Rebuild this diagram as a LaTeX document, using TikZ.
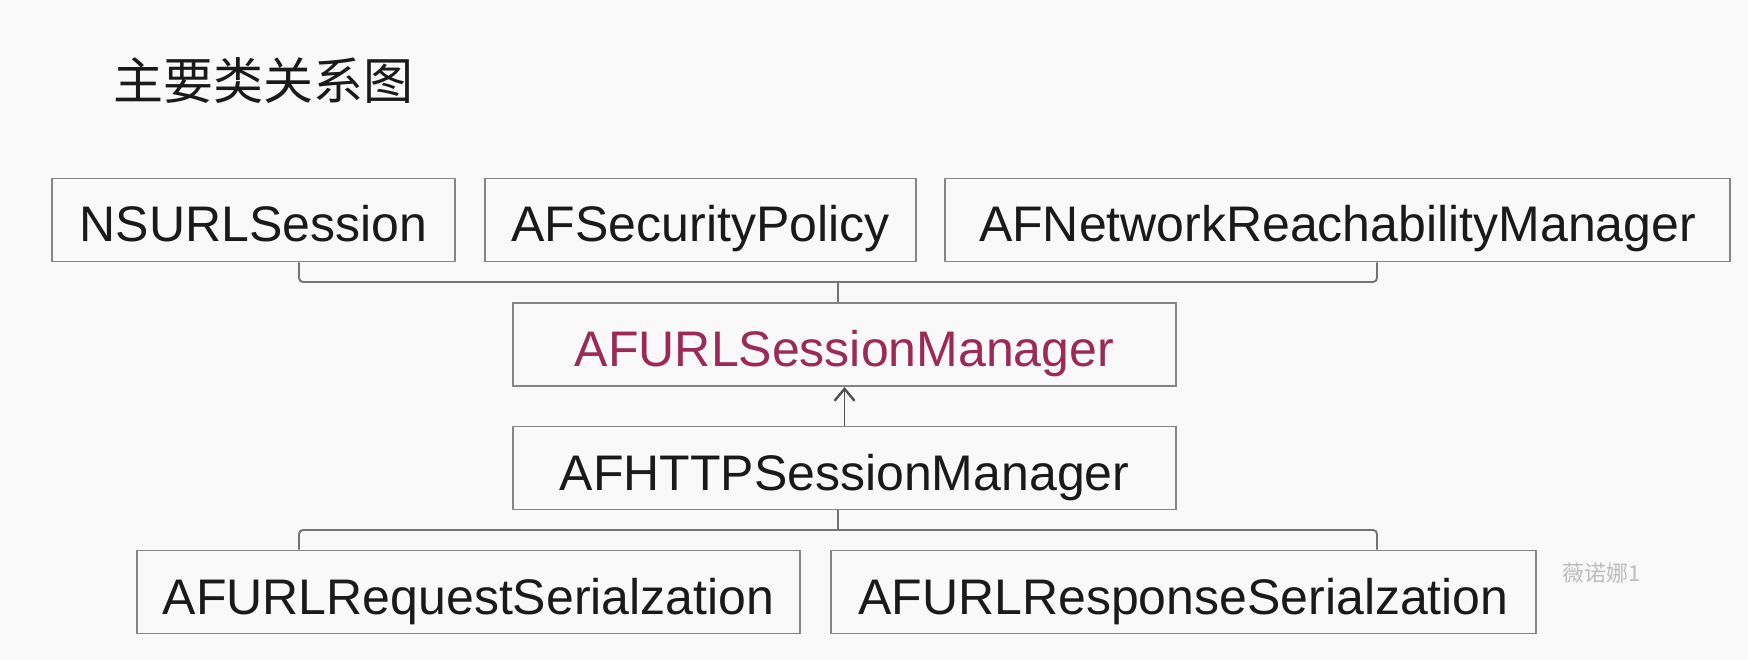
\documentclass[tikz,border=0pt]{standalone}
\usepackage{fontspec}
\setmainfont{Liberation Sans}
\newfontfamily\cjk{Noto Sans CJK SC}
\usetikzlibrary{arrows.meta}
\definecolor{bg}{HTML}{F9F9F9}
\definecolor{boxgray}{HTML}{858585}
\definecolor{linegray}{HTML}{747474}
\definecolor{arrowgray}{HTML}{505050}
\definecolor{txt}{HTML}{1A1A1A}
\definecolor{mgrred}{HTML}{9B2A57}
\definecolor{wmgray}{HTML}{BDBDBD}
\begin{document}
\begin{tikzpicture}[x=1pt,y=-1pt,
  box/.style={draw=boxgray, line width=1.9pt, inner sep=0pt, minimum height=83pt,
    text height=44pt, text depth=0pt,
    font=\fontsize{50}{60}\selectfont, text=txt},
  link/.style={draw=linegray, line width=1.9pt, rounded corners=4pt},
  titletext/.style={font=\cjk\fontsize{50}{60}\selectfont, text=txt, anchor=west, inner sep=0pt},
  wmtext/.style={font=\cjk\fontsize{22}{26}\selectfont, text=wmgray, anchor=west, inner sep=0pt}]
\fill[bg] (0,0) rectangle (1748,660);
\useasboundingbox (0,0) rectangle (1748,660);

\node[titletext] (title) at (113,81) {主要类关系图};

\node[box, minimum width=403pt] (ns) at (253.5,220) {NSURLSession};
\node[box, minimum width=431pt] (sec) at (700.5,220) {AFSecurityPolicy};
\node[box, minimum width=785pt] (reach) at (1337.5,220) {AFNetworkReachabilityManager};
\node[box, minimum width=663pt, text=mgrred] (mgr) at (844.5,344.5) {AFURLSessionManager};
\node[box, minimum width=663pt] (http) at (844.5,468) {AFHTTPSessionManager};
\node[box, minimum width=663pt] (req) at (468.5,592) {AFURLRequestSerialzation};
\node[box, minimum width=705pt] (resp) at (1183.5,592) {AFURLResponseSerialzation};

\node[wmtext] (wm) at (1562,573) {薇诺娜1};

\coordinate (tj) at (838,282);
\draw[link] ([xshift=45.5pt]ns.south) |- (tj) -| ([xshift=39.5pt]reach.south);
\draw[link] (tj) -- (tj |- mgr.north);

\draw[link, draw=arrowgray, -{Straight Barb[length=12pt,width=20pt,line width=2.4pt]}] (http.north) -- (mgr.south);

\coordinate (bj) at (838,530);
\draw[link] (bj |- http.south) -- (bj);
\draw[link] ([xshift=-169.5pt]req.north) |- (bj) -| ([xshift=193.5pt]resp.north);
\end{tikzpicture}
\end{document}
